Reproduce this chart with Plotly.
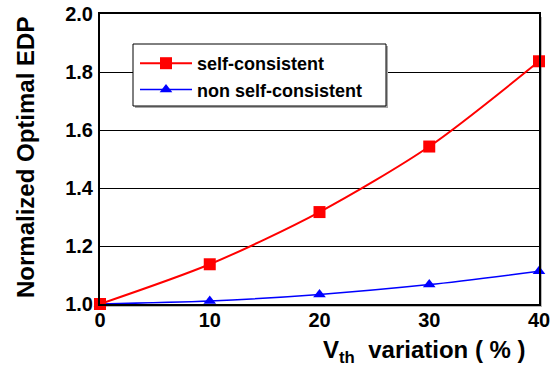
import plotly.graph_objects as go

x_vals = [0, 10, 20, 30, 40]
self_consistent = [1.0, 1.137, 1.317, 1.543, 1.837]
non_self_consistent = [1.0, 1.010, 1.033, 1.067, 1.113]
y_ticks = [1.0, 1.2, 1.4, 1.6, 1.8, 2.0]
x_ticks = [0, 10, 20, 30, 40]

FONT = "Liberation Sans, Arial, sans-serif"

# plot area in px: left 100, right 539, top 14, bottom 304
PW, PH = 439.0, 290.0
def px(x): return (x - 100) / PW
def py(y): return (304 - y) / PH

fig = go.Figure()
fig.add_trace(go.Scatter(
    x=x_vals, y=non_self_consistent, name="non self-consistent", legendrank=2,
    mode="lines+markers", line=dict(color="#0000ff", width=1.5, shape="spline", smoothing=0.8),
    marker=dict(symbol="triangle-up", size=11, color="#0000ff"),
    cliponaxis=False))
fig.add_trace(go.Scatter(
    x=x_vals, y=self_consistent, name="self-consistent", legendrank=1,
    mode="lines+markers", line=dict(color="#ff0000", width=2, shape="spline", smoothing=0.8),
    marker=dict(symbol="square", size=12, color="#ff0000"),
    cliponaxis=False))

fig.update_layout(
    width=553, height=369,
    margin=dict(l=100, r=14, t=14, b=65, autoexpand=False),
    paper_bgcolor="white", plot_bgcolor="white",
    font=dict(family=FONT, color="black"),
    showlegend=True,
    legend=dict(
        x=px(135), y=py(45), xanchor="left", yanchor="top",
        borderwidth=0, bgcolor="rgba(0,0,0,0)",
        font=dict(size=18, family=FONT, weight="bold"),
        traceorder="normal",
        itemwidth=52,
    ),
    xaxis=dict(
        range=[0, 40], tickvals=x_ticks, ticktext=[str(v) for v in x_ticks],
        showgrid=False, zeroline=False, automargin=False,
        showline=True, linecolor="black", linewidth=2, mirror=True,
        ticks="", ticklabelstandoff=-3,
        tickfont=dict(size=20, family=FONT, weight="bold"),
    ),
    yaxis=dict(
        range=[1.0, 2.0], tickvals=y_ticks, tickformat=".1f",
        showgrid=True, gridcolor="black", gridwidth=1, zeroline=False, automargin=False,
        showline=True, linecolor="black", linewidth=2, mirror=True,
        ticks="", ticklabelstandoff=1,
        tickfont=dict(size=20, family=FONT, weight="bold"),
    ),
    shapes=[
        # plot frame shadow
        dict(type="line", xref="paper", yref="paper", x0=px(541), x1=px(541), y0=py(306), y1=py(17),
             line=dict(color="#b8b8b8", width=2), layer="below"),
        dict(type="line", xref="paper", yref="paper", x0=px(102), x1=px(542), y0=py(306), y1=py(306),
             line=dict(color="#b8b8b8", width=2), layer="below"),
        # legend box shadow
        dict(type="rect", xref="paper", yref="paper", x0=px(135), x1=px(388), y0=py(108), y1=py(46),
             fillcolor="#a8a8a8", line=dict(width=0), layer="above"),
        # legend box
        dict(type="rect", xref="paper", yref="paper", x0=px(133), x1=px(386), y0=py(106), y1=py(44),
             fillcolor="white", line=dict(color="black", width=1), layer="above"),
    ],
    annotations=[
        dict(text="Normalized Optimal EDP", xref="paper", yref="paper",
             x=px(25), y=py(158), xanchor="center", yanchor="middle", textangle=-90,
             showarrow=False, font=dict(size=24, family=FONT, weight="bold")),
        dict(text="V<sub>th</sub>  variation ( % )", xref="paper", yref="paper",
             x=px(528), y=py(352), xanchor="right", yanchor="middle",
             showarrow=False, font=dict(size=24, family=FONT, weight="bold")),
    ],
)

fig.write_html("out.html", post_script="document.body.style.margin='0';",
               config={"displayModeBar": False})
